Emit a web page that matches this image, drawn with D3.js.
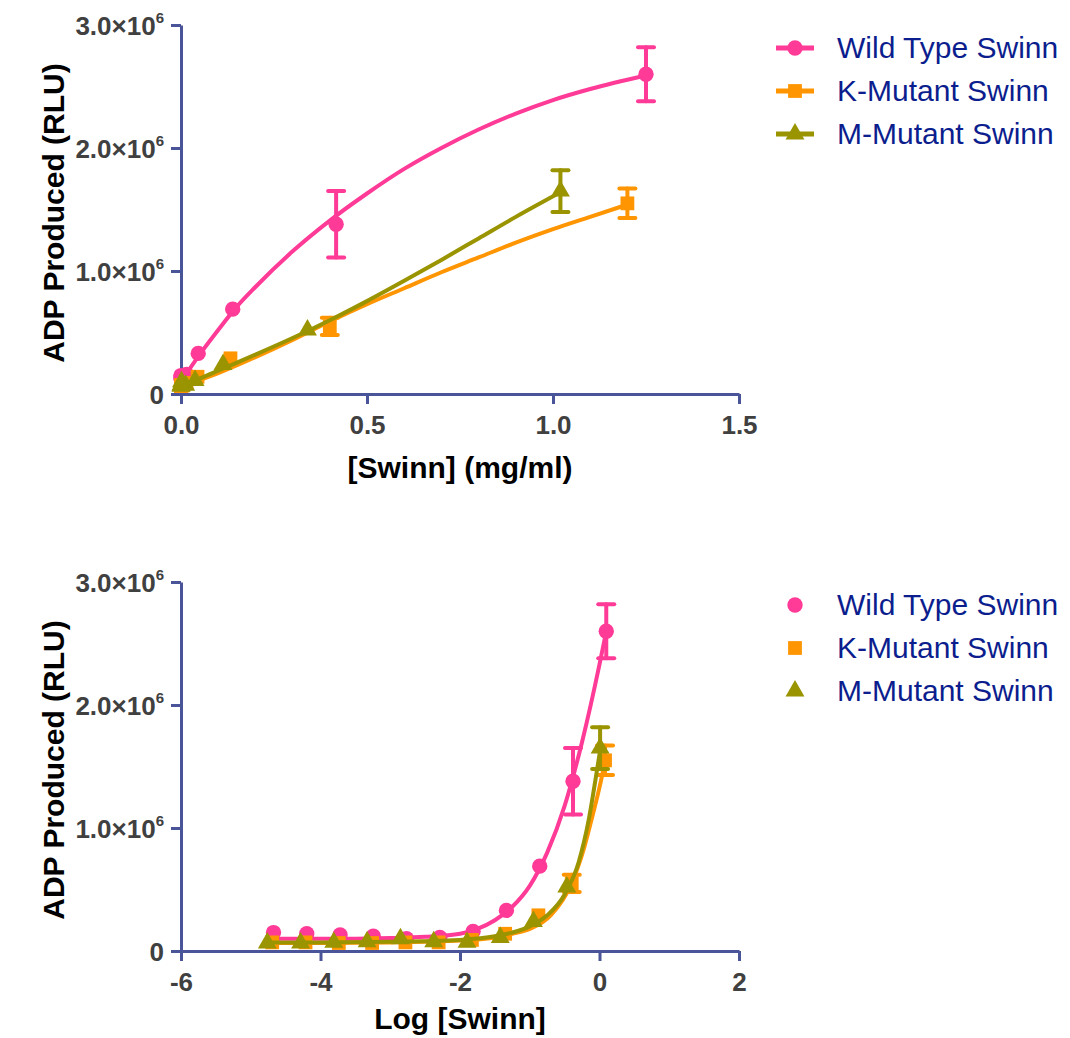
<!DOCTYPE html>
<html><head><meta charset="utf-8">
<script src="https://cdn.jsdelivr.net/npm/d3@7"></script>
<style>
body{margin:0;background:#fff;}
svg{display:block;font-family:"Liberation Sans",Arial,sans-serif;}
</style></head>
<body>
<svg id="chart" width="1070" height="1038"></svg>
<script>
// ---------------- DATA ----------------
const seriesNames = ["Wild Type Swinn", "K-Mutant Swinn", "M-Mutant Swinn"];
// concentrations (mg/ml)
const wtConc = [1.25, 0.417, 0.139, 0.0463, 0.0154, 0.00514, 0.00171, 0.000572, 0.000191, 0.0000635, 0.0000212];
const kConc  = [1.20, 0.400, 0.133, 0.0444, 0.0148, 0.00494, 0.00165, 0.000549, 0.000183, 0.0000610, 0.0000203];
const mConc  = [1.02, 0.340, 0.113, 0.0378, 0.0126, 0.00420, 0.00140, 0.000466, 0.000155, 0.0000518, 0.0000173];
// ADP produced (RLU, x10^6)
const wtVal = [2.60, 1.38, 0.69, 0.33, 0.16, 0.11, 0.10, 0.12, 0.13, 0.14, 0.15];
const kVal  = [1.55, 0.55, 0.29, 0.14, 0.09, 0.07, 0.07, 0.065, 0.065, 0.07, 0.07];
const mVal  = [1.65, 0.52, 0.24, 0.11, 0.07, 0.075, 0.10, 0.075, 0.07, 0.065, 0.065];
// SEM (x10^6)
const wtErr = [0.22, 0.27, 0, 0, 0, 0, 0, 0, 0, 0, 0];
const kErr  = [0.12, 0.07, 0, 0, 0, 0, 0, 0, 0, 0, 0];
const mErr  = [0.17, 0, 0, 0, 0, 0, 0, 0, 0, 0, 0];

// fitted curves, linear concentration axis
const wtFitX = [0, 0.05, 0.1, 0.15, 0.2, 0.3, 0.4, 0.5, 0.6, 0.7, 0.8, 0.9, 1.0, 1.1, 1.25];
const wtFitY = [0.10, 0.32, 0.52, 0.71, 0.87, 1.16, 1.41, 1.63, 1.83, 2.00, 2.15, 2.28, 2.39, 2.48, 2.59];
const kFitX  = [0, 0.1, 0.2, 0.3, 0.4, 0.5, 0.6, 0.7, 0.8, 0.9, 1.0, 1.1, 1.2];
const kFitY  = [0.06, 0.17, 0.30, 0.44, 0.59, 0.73, 0.86, 0.99, 1.11, 1.23, 1.34, 1.44, 1.54];
const mFitX  = [0, 0.1, 0.2, 0.3, 0.4, 0.5, 0.6, 0.7, 0.8, 0.9, 1.02];
const mFitY  = [0.06, 0.19, 0.32, 0.455, 0.60, 0.755, 0.92, 1.09, 1.265, 1.44, 1.64];

// fitted curves, log concentration axis
const wtLogFitX = [-4.68, -4, -3.5, -3, -2.5, -2, -1.75, -1.5, -1.25, -1, -0.75, -0.5, -0.25, 0, 0.097];
const wtLogFitY = [0.10, 0.10, 0.10, 0.105, 0.115, 0.14, 0.18, 0.25, 0.36, 0.53, 0.80, 1.18, 1.70, 2.33, 2.60];
const kLogFitX  = [-4.69, -4, -3, -2.5, -2, -1.5, -1.25, -1, -0.7, -0.4, -0.22, -0.1, 0, 0.079];
const kLogFitY  = [0.065, 0.065, 0.07, 0.075, 0.085, 0.11, 0.14, 0.18, 0.29, 0.55, 0.84, 1.10, 1.33, 1.54];
const mLogFitX  = [-4.76, -4, -3, -2.5, -2, -1.5, -1.25, -1, -0.75, -0.5, -0.3, -0.15, -0.05, 0.0086];
const mLogFitY  = [0.07, 0.07, 0.075, 0.08, 0.09, 0.12, 0.15, 0.20, 0.29, 0.46, 0.72, 1.08, 1.42, 1.63];

const yTicks = [0, 1e6, 2e6, 3e6];
const xTicksTop = [0, 0.5, 1.0, 1.5];
const xTicksBottom = [-6, -4, -2, 0, 2];

// ---------------- STYLE ----------------
const colors = ["#FF3A97", "#FF9500", "#999400"];
const shapes = [d3.symbolCircle, d3.symbolSquare, d3.symbolTriangle];
const shapeSize = [185, 190, 155];
const axisColor = "#4A5498";
const tickColor = "#404040";
const legendColor = "#0C1E8E";

const svg = d3.select("#chart");

const series = [
  {conc: wtConc, val: wtVal, err: wtErr, fx: wtFitX, fy: wtFitY, lx: wtLogFitX, ly: wtLogFitY},
  {conc: kConc, val: kVal, err: kErr, fx: kFitX, fy: kFitY, lx: kLogFitX, ly: kLogFitY},
  {conc: mConc, val: mVal, err: mErr, fx: mFitX, fy: mFitY, lx: mLogFitX, ly: mLogFitY}
];

function drawPanel(opts) {
  const g = svg.append("g");
  const x = d3.scaleLinear().domain(opts.xDomain).range([181, 739]);
  const y = d3.scaleLinear().domain([0, 3e6]).range([opts.y0, opts.y0 - 369]);

  // axes
  const xAxis = d3.axisBottom(x).tickValues(opts.xTicks).tickSize(10).tickSizeOuter(0)
    .tickFormat(opts.xFormat);
  const gx = g.append("g").attr("transform", `translate(0,${opts.y0})`).call(xAxis);
  const yAxis = d3.axisLeft(y).tickValues(yTicks).tickSize(10).tickSizeOuter(0)
    .tickFormat(d => d === 0 ? "0" : (d / 1e6).toFixed(1) + "×10");
  const gy = g.append("g").attr("transform", `translate(181,0)`).call(yAxis);

  [gx, gy].forEach(a => {
    a.select(".domain").attr("stroke", axisColor).attr("stroke-width", 3);
    a.selectAll(".tick line").attr("stroke", axisColor).attr("stroke-width", 3);
    a.selectAll(".tick text").attr("fill", tickColor).attr("font-size", 26)
      .attr("font-weight", "bold").attr("font-family", "Liberation Sans, Arial, sans-serif");
  });
  gx.selectAll(".tick text").attr("y", 22).attr("dy", "0.71em");
  gy.selectAll(".tick text").attr("x", -17).attr("dy", "0.36em");
  gy.selectAll(".tick text").filter(d => d !== 0)
    .append("tspan").attr("font-size", 15).attr("dy", "-0.8em").text("6");

  // axis titles
  g.append("text").attr("x", x(opts.xDomain[0]) + (x(opts.xDomain[1]) - x(opts.xDomain[0])) / 2)
    .attr("y", opts.y0 + opts.titleOffset).attr("text-anchor", "middle")
    .attr("font-size", 30).attr("font-weight", "bold").attr("fill", "#000")
    .text(opts.xTitle);
  g.append("text").attr("transform", `translate(64,${opts.y0 - 181}) rotate(-90)`)
    .attr("text-anchor", "middle").attr("font-size", 30).attr("font-weight", "bold").attr("fill", "#000")
    .text("ADP Produced (RLU)");

  const line = d3.line().x(d => x(d[0])).y(d => y(d[1] * 1e6)).curve(d3.curveMonotoneX);

  series.forEach((s, i) => {
    const c = colors[i];
    const fx = opts.log ? s.lx : s.fx;
    const fy = opts.log ? s.ly : s.fy;
    g.append("path").datum(fx.map((v, k) => [v, fy[k]]))
      .attr("d", line).attr("fill", "none").attr("stroke", c).attr("stroke-width", 4);
    const pts = s.conc.map((cc, k) => ({x: opts.log ? Math.log10(cc) : cc, v: s.val[k], e: s.err[k]}));
    const eb = g.append("g").attr("stroke", c).attr("stroke-width", 4).attr("stroke-linecap", "round");
    pts.filter(p => p.e > 0).forEach(p => {
      const px = x(p.x), yt = y((p.v + p.e) * 1e6), yb = y((p.v - p.e) * 1e6);
      eb.append("line").attr("x1", px).attr("x2", px).attr("y1", yt).attr("y2", yb);
      eb.append("line").attr("x1", px - 8).attr("x2", px + 8).attr("y1", yt).attr("y2", yt);
      eb.append("line").attr("x1", px - 8).attr("x2", px + 8).attr("y1", yb).attr("y2", yb);
    });
    g.append("g").selectAll("path").data(pts).join("path")
      .attr("transform", p => `translate(${x(p.x)},${y(p.v * 1e6)})`)
      .attr("d", d3.symbol().type(shapes[i]).size(shapeSize[i]))
      .attr("fill", c);
  });

  // legend
  const lg = g.append("g");
  seriesNames.forEach((n, i) => {
    const ly = opts.legendY + i * 43;
    if (opts.legendLines) {
      lg.append("line").attr("x1", 776).attr("x2", 814).attr("y1", ly).attr("y2", ly)
        .attr("stroke", colors[i]).attr("stroke-width", 5);
    }
    lg.append("path").attr("transform", `translate(795,${ly})`)
      .attr("d", d3.symbol().type(shapes[i]).size(shapeSize[i])).attr("fill", colors[i]);
    lg.append("text").attr("x", 837).attr("y", ly + 10).attr("font-size", 30)
      .attr("fill", legendColor).text(n);
  });
}

drawPanel({xDomain: [0, 1.5], xTicks: xTicksTop, xFormat: d3.format(".1f"), y0: 394, titleOffset: 84,
  xTitle: "[Swinn] (mg/ml)", log: false, legendY: 48, legendLines: true});
drawPanel({xDomain: [-6, 2], xTicks: xTicksBottom, xFormat: d => d3.format("d")(d).replace("−", "-"), y0: 951, titleOffset: 78,
  xTitle: "Log [Swinn]", log: true, legendY: 605, legendLines: false});
</script>
</body></html>
